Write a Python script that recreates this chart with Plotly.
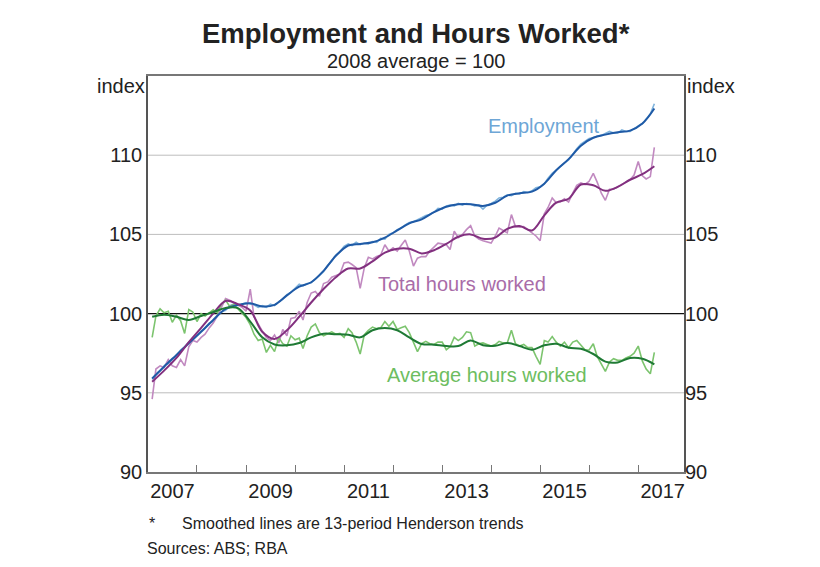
import pandas as pd
import plotly.graph_objects as go

# monthly observations, Feb 2007 - May 2017
months = pd.date_range("2007-02-01", periods=124, freq="MS")
# trend values sampled quarterly over the same span
quarters = pd.date_range("2007-02-01", periods=42, freq="3MS")

employment = [
    95.85, 96.2, 96.4, 96.7, 96.85, 97.1, 97.35, 97.7, 97.9, 98.2, 98.35, 98.6,
    98.9, 99.1, 99.4, 99.5, 99.85, 100.1, 100.2, 100.5, 100.6, 100.5, 100.6, 100.7,
    100.6, 100.55, 100.4, 100.5, 100.4, 100.6, 100.5, 100.75, 100.9, 101.2, 101.35, 101.6,
    101.85, 101.75, 101.9, 101.95, 102.15, 102.4, 102.65, 103.05, 103.3, 103.7, 103.9, 104.25,
    104.4, 104.3, 104.5, 104.35, 104.45, 104.4, 104.55, 104.5, 104.75, 104.7, 105.0, 105.1,
    105.3, 105.4, 105.6, 105.75, 105.8, 105.9, 106.05, 106.2, 106.25, 106.4, 106.65, 106.6,
    106.8, 106.85, 106.8, 106.95, 106.85, 106.95, 106.9, 106.8, 106.85, 106.6, 106.85, 106.95,
    107.1, 107.3, 107.35, 107.5, 107.45, 107.6, 107.55, 107.7, 107.65, 107.75, 107.95, 108.0,
    108.2, 108.55, 108.85, 109.05, 109.3, 109.5, 109.7, 110.1, 110.4, 110.7, 110.85, 111.05,
    111.1, 111.2, 111.25, 111.35, 111.5, 111.4, 111.4, 111.6, 111.5, 111.5, 111.7, 111.85,
    112.0, 112.3, 112.6, 113.25,
]
total_hours = [
    94.6, 96.5, 96.7, 96.6, 97.1, 96.7, 96.6, 97.1, 96.7, 97.9, 98.3, 98.2,
    98.5, 98.7, 99.1, 99.4, 99.85, 100.4, 100.95, 100.85, 100.7, 100.6, 100.4, 100.15,
    101.55, 99.8, 99.3, 98.9, 98.5, 98.3, 98.65, 98.15, 99.0, 98.6, 99.7, 99.75,
    100.15, 99.6, 100.7, 101.3, 101.4, 101.1, 101.9, 102.0, 102.3, 102.4, 102.5, 103.2,
    103.25, 103.1, 102.9, 101.6, 102.9, 103.55, 103.45, 103.6, 103.7, 104.35, 103.95, 104.15,
    103.95, 104.3, 104.65, 103.95, 103.0, 103.5, 103.6, 103.6, 103.95, 104.2, 104.45, 104.4,
    104.35, 104.05, 105.2, 104.8, 105.0, 105.3, 105.55, 104.9, 104.7, 104.6, 104.55, 104.45,
    104.9, 105.4, 105.25, 105.1, 106.25, 105.5, 105.45, 105.5, 105.3, 105.1, 104.9, 104.6,
    106.3, 106.7, 107.3, 107.0, 107.05, 107.25, 107.05, 107.6, 108.1, 108.25, 108.15, 108.35,
    108.85, 108.3, 107.6, 107.15, 107.85, 107.85, 108.0, 108.15, 108.35, 108.45, 108.75, 109.6,
    108.7, 108.5, 108.65, 110.5,
]
average_hours = [
    98.5, 99.85, 100.3, 100.05, 100.15, 99.45, 99.9, 99.55, 98.75, 100.25, 100.1, 99.5,
    100.0, 99.85, 100.05, 100.25, 100.05, 100.6, 100.85, 100.45, 100.57, 100.3, 100.0, 99.75,
    99.3, 98.7, 98.3, 98.4, 97.55, 98.0, 97.6, 98.5, 98.1, 97.95, 98.6, 98.35,
    98.45, 97.8, 98.6, 99.15, 99.35, 98.8, 98.6, 98.75, 98.85, 98.7, 98.75, 98.5,
    99.05, 98.8, 98.2, 97.45, 98.67, 98.95, 99.15, 99.05, 99.1, 99.5, 99.2, 99.5,
    99.0, 99.1, 99.2, 98.8, 98.2, 97.6, 98.1, 98.25, 98.1, 98.05, 98.2, 98.2,
    97.72, 97.9, 98.5, 98.3, 98.5, 98.85, 98.8, 97.95, 98.1, 98.15, 98.05, 97.95,
    98.05, 98.25, 98.15, 98.15, 98.95, 98.1, 97.95, 98.05, 97.85, 97.85, 97.3, 96.8,
    98.3, 98.2, 98.55, 98.2, 97.95, 98.2, 97.85, 98.2, 98.3, 98.0, 97.72, 97.7,
    98.1, 97.3, 96.8, 96.35, 96.95, 97.15, 97.05, 97.05, 97.2, 97.3, 97.5, 97.95,
    97.0, 96.5, 96.2, 97.55,
]

employment_trend = [
    95.9, 96.65, 97.39, 98.13, 98.85, 99.6, 100.3, 100.55, 100.65, 100.45, 100.55, 101.15,
    101.7, 101.98, 102.7, 103.65, 104.3, 104.4, 104.5, 104.8, 105.25, 105.7, 105.95, 106.4,
    106.75, 106.9, 106.9, 106.8, 107.0, 107.45, 107.6, 107.7, 108.2, 109.05, 109.75, 110.6,
    111.1, 111.3, 111.45, 111.55, 112.0, 112.95,
]
total_hours_trend = [
    95.7, 96.4, 97.2, 98.2, 99.1, 100.0, 100.8, 100.6, 100.2, 98.85, 98.4, 98.95,
    99.8, 100.7, 101.55, 102.3, 102.85, 102.85, 103.3, 103.85, 104.1, 104.1, 103.8, 104.0,
    104.4, 104.85, 105.0, 104.72, 104.8, 105.35, 105.53, 105.25, 106.2, 107.0, 107.25, 108.15,
    108.1, 107.75, 108.0, 108.45, 108.8, 109.3,
]
average_hours_trend = [
    99.8, 99.93, 99.8, 99.6, 99.85, 100.1, 100.36, 100.35, 99.5, 98.5, 98.05, 98.0,
    98.14, 98.5, 98.73, 98.7, 98.67, 98.5, 98.95, 99.09, 98.95, 98.5, 98.08, 98.04,
    97.95, 97.95, 98.3, 98.0, 97.97, 98.15, 97.95, 97.72, 98.0, 98.1, 97.85, 97.78,
    97.45, 96.97, 96.92, 97.2, 97.15, 96.8,
]

year_labels = ["2007", "2009", "2011", "2013", "2015", "2017"]
y_ticks = [90, 95, 100, 105, 110]
grid_levels = [95, 105, 110]
base_level = 100

font = "Arial, Liberation Sans, sans-serif"
colours = {
    "emp": ("#7fb3dc", "#1f5aa6"),
    "tot": ("#c189c0", "#82307f"),
    "avg": ("#7cc46e", "#1f7a35"),
}

fig = go.Figure()
series = [
    ("emp", employment, employment_trend),
    ("tot", total_hours, total_hours_trend),
    ("avg", average_hours, average_hours_trend),
]
for key, raw, trend in series:
    light, dark = colours[key]
    fig.add_trace(go.Scatter(x=months, y=raw, mode="lines",
                             line=dict(color=light, width=1.6)))
for key, raw, trend in series:
    light, dark = colours[key]
    fig.add_trace(go.Scatter(x=quarters, y=trend, mode="lines",
                             line=dict(color=dark, width=2, shape="spline", smoothing=1)))

# invisible trace so the right-hand axis is drawn
fig.add_trace(go.Scatter(x=months[:1], y=[100], yaxis="y2", mode="lines",
                         line=dict(width=0), hoverinfo="skip"))

for lvl in grid_levels:
    fig.add_hline(y=lvl, line=dict(color="#bdbdbd", width=1), layer="below")
fig.add_hline(y=base_level, line=dict(color="#111", width=1.3), layer="below")

axis_font = dict(family=font, size=20, color="#222")
fig.update_layout(
    width=820, height=567,
    margin=dict(l=148, r=136, t=76, b=95),
    paper_bgcolor="white", plot_bgcolor="white",
    showlegend=False,
    font=dict(family=font, color="#222"),
    xaxis=dict(
        type="date",
        range=["2007-01-01", "2017-12-08"],
        tickvals=[y + "-07-02" for y in year_labels],
        ticktext=year_labels,
        ticks="", tickfont=axis_font,
        showgrid=False, zeroline=False,
        showline=True, linecolor="#777", linewidth=1.5, mirror=True,
        minor=dict(tickvals=[f"{y}-01-01" for y in range(2008, 2018)],
                   ticks="inside", ticklen=7, tickcolor="#777", showgrid=False),
    ),
    yaxis=dict(
        range=[90, 115], tickvals=y_ticks, tickfont=axis_font,
        showgrid=False, zeroline=False,
        showline=True, linecolor="#555", linewidth=1.5, mirror=True,
        ticks="",
    ),
    yaxis2=dict(
        range=[90, 115], tickvals=y_ticks, tickfont=axis_font,
        overlaying="y", side="right", showgrid=False, zeroline=False,
        showline=False, ticks="",
    ),
)

annotations = [
    dict(text="<b>Employment and Hours Worked*</b>", x=416, y=33, size=27.5, color="#222"),
    dict(text="2008 average = 100", x=416, y=61, size=20, color="#222"),
    dict(text="index", x=121, y=86, size=20, color="#222"),
    dict(text="index", x=711, y=86, size=20, color="#222"),
    dict(text="Employment", x=544, y=126, size=20, color="#6ea6d6"),
    dict(text="Total hours worked", x=462, y=284, size=20, color="#a96ca8"),
    dict(text="Average hours worked", x=487, y=375, size=20, color="#6dbd60"),
]
for a in annotations:
    fig.add_annotation(text=a["text"], xref="paper", yref="paper",
                       x=(a["x"] - 148) / 536, y=(472 - a["y"]) / 396,
                       showarrow=False, xanchor="center", yanchor="middle",
                       font=dict(family=font, size=a["size"], color=a["color"]))

notes = [
    ("*", 147, 523),
    ("Smoothed lines are 13-period Henderson trends", 180, 523),
    ("Sources: ABS; RBA", 145, 548),
]
for text, px_x, px_y in notes:
    fig.add_annotation(text=text, xref="paper", yref="paper",
                       x=(px_x - 148) / 536, y=(472 - px_y) / 396,
                       showarrow=False, xanchor="left", yanchor="middle",
                       font=dict(family=font, size=16, color="#222"))

fig.write_html("out.html", config={"displayModeBar": False},
               post_script="document.body.style.margin='0';")
